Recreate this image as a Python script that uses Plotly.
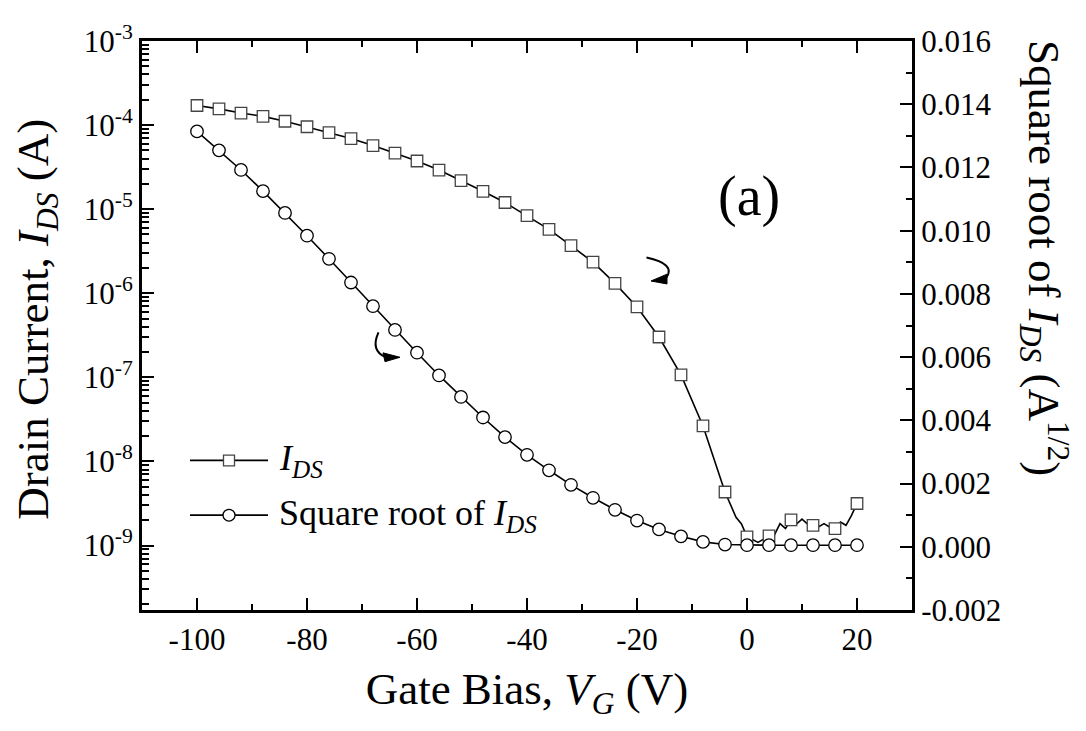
import plotly.graph_objects as go

# ---------------- data ----------------
vg = [-100, -96, -92, -88, -84, -80, -76, -72, -68, -64, -60, -56, -52, -48, -44,
      -40, -36, -32, -28, -24, -20, -16, -12, -8, -4, 0, 4, 8, 12, 16, 20]

ids = [1.71e-4, 1.56e-4, 1.39e-4, 1.27e-4, 1.11e-4, 9.55e-5, 8.13e-5, 6.92e-5,
       5.70e-5, 4.63e-5, 3.74e-5, 2.92e-5, 2.19e-5, 1.63e-5, 1.20e-5, 8.36e-6,
       5.74e-6, 3.68e-6, 2.34e-6, 1.31e-6, 6.87e-7, 3.02e-7, 1.07e-7, 2.64e-8,
       4.33e-9, 1.27e-9, 1.30e-9, 2.02e-9, 1.74e-9, 1.59e-9, 3.16e-9]

sqrt_ids = [0.01314, 0.01254, 0.01192, 0.01125, 0.01056, 0.00984, 0.00911, 0.00836,
            0.00761, 0.00686, 0.00614, 0.00542, 0.00474, 0.00409, 0.00347, 0.00291,
            0.00242, 0.00196, 0.00155, 0.00117, 0.00083, 0.00055, 0.00033, 0.000155,
            0.00007, 0.00005, 0.00005, 0.00005, 0.00005, 0.00005, 0.00005]

# extra vertices of the I_DS line between markers (wiggles seen near 0 V)
vg_extra = [-2, -1, 2, 5, 6, 7, 9, 10, 11, 13, 14, 15, 17, 18, 19]
ids_extra = [2.17e-9, 1.80e-9, 1.09e-9, 1.34e-9, 1.82e-9, 1.59e-9, 1.80e-9, 2.06e-9,
             1.80e-9, 1.66e-9, 1.82e-9, 1.66e-9, 1.90e-9, 1.74e-9, 2.28e-9]

x_ticks = [-100, -80, -60, -40, -20, 0, 20]
log_tick_exps = [-9, -8, -7, -6, -5, -4, -3]
right_ticks = [-0.002, 0.000, 0.002, 0.004, 0.006, 0.008, 0.010, 0.012, 0.014, 0.016]

# ---------------- figure ----------------
FONT = "Times New Roman, Liberation Serif, Times, serif"
OFF = 8                      # default page margin of the html body
W, H = 1086 - OFF, 731 - OFF
# plot area in screen pixels
L, R, T, B = 142, 912, 28, 610


def px(x, y):
    """screen pixel -> paper coordinates (for decorations only)"""
    return (x - L) / (R - L), (B - y) / (B - T)


line_pts = sorted(zip(vg + vg_extra, ids + ids_extra))
fig = go.Figure()

fig.add_trace(go.Scatter(
    x=[p[0] for p in line_pts], y=[p[1] for p in line_pts], mode="lines",
    line=dict(color="black", width=1.6), showlegend=False, yaxis="y"))
fig.add_trace(go.Scatter(
    x=vg, y=ids, mode="markers", name="I_DS",
    marker=dict(symbol="square", size=11.5, color="white",
                line=dict(color="#444444", width=1.3)),
    showlegend=False, yaxis="y"))
fig.add_trace(go.Scatter(
    x=vg, y=sqrt_ids, mode="lines+markers", name="Square root of I_DS",
    line=dict(color="black", width=1.6),
    marker=dict(symbol="circle", size=12.5, color="white",
                line=dict(color="black", width=1.3)),
    showlegend=False, yaxis="y2"))

minor_log = [m * 10 ** e for e in range(-10, -3) for m in range(2, 10)]
minor_log = [v for v in minor_log if 1.7e-10 < v < 1e-3]

tickfont = dict(family=FONT, size=31, color="black")
titlefont = dict(family=FONT, size=45, color="black")

fig.update_layout(
    width=W, height=H, autosize=False,
    margin=dict(l=L - OFF, r=W - (R - OFF), t=T - OFF, b=H - (B - OFF)),
    paper_bgcolor="white", plot_bgcolor="white",
    showlegend=False,
    font=dict(family=FONT, color="black"),
    xaxis=dict(
        range=[-110, 30], tickmode="array", tickvals=x_ticks,
        ticktext=[str(v) for v in x_ticks], tickfont=tickfont,
        ticks="inside", ticklen=12, tickwidth=2, tickcolor="black",
        minor=dict(ticks="inside", ticklen=6, tickwidth=2, tickcolor="black",
                   dtick=10, tick0=0, showgrid=False),
        showline=True, linewidth=3, linecolor="black", mirror="ticks",
        showgrid=False, zeroline=False,
        title=dict(text="Gate Bias, <i>V</i><sub><i>G</i></sub> (V)",
                   font=titlefont, standoff=17),
    ),
    yaxis=dict(
        type="log", range=[-9.767, -3], tickmode="array",
        tickvals=[10 ** e for e in log_tick_exps],
        ticktext=["10<sup>%d</sup>" % e for e in log_tick_exps],
        tickfont=tickfont,
        ticks="inside", ticklen=12, tickwidth=2, tickcolor="black",
        minor=dict(ticks="inside", ticklen=7, tickwidth=2, tickcolor="black",
                   tickmode="array", tickvals=minor_log, showgrid=False),
        showline=True, linewidth=3, linecolor="black", mirror=False,
        showgrid=False, zeroline=False,
    ),
    yaxis2=dict(
        overlaying="y", side="right", anchor="x",
        range=[-0.002, 0.016], tickmode="array", tickvals=right_ticks,
        ticktext=["%.3f" % v for v in right_ticks], tickfont=tickfont,
        ticks="inside", ticklen=12, tickwidth=2, tickcolor="black",
        minor=dict(ticks="inside", ticklen=6, tickwidth=2, tickcolor="black",
                   dtick=0.001, tick0=0, showgrid=False),
        showline=True, linewidth=3, linecolor="black",
        showgrid=False, zeroline=False,
    ),
)

annotations = []
# left axis title (reads bottom to top)
ax, ay = px(36, 313)
annotations.append(dict(
    x=ax, y=ay, xref="paper", yref="paper", showarrow=False, textangle=-90,
    text="Drain Current, <i>I</i><sub><i>DS</i></sub> (A)",
    font=titlefont, xanchor="center", yanchor="middle"))
# right axis title (reads top to bottom)
ax, ay = px(1045, 250)
annotations.append(dict(
    x=ax, y=ay, xref="paper", yref="paper", showarrow=False, textangle=90,
    text="Square root of <i>I</i><sub><i>DS</i></sub> (A<sup>1/2</sup>)",
    font=titlefont, xanchor="center", yanchor="middle"))
# panel label
ax, ay = px(749, 187)
annotations.append(dict(x=ax, y=ay, xref="paper", yref="paper", showarrow=False,
                        text="(a)", font=dict(family=FONT, size=56, color="black"),
                        xanchor="center", yanchor="middle"))

# manual legend
shapes = []
legend_font = dict(family=FONT, size=36, color="black")
for ly, sym, label in [(457, "square", "<i>I</i><sub><i>DS</i></sub>"),
                       (513, "circle", "Square root of <i>I</i><sub><i>DS</i></sub>")]:
    x0, y0 = px(190, ly)
    x1, _ = px(268, ly)
    shapes.append(dict(type="line", xref="paper", yref="paper", x0=x0, x1=x1, y0=y0, y1=y0,
                       line=dict(color="black", width=1.6)))
    if sym == "square":
        a0, b0 = px(223.5, ly + 5.5)
        a1, b1 = px(234.5, ly - 5.5)
        shapes.append(dict(type="rect", xref="paper", yref="paper", x0=a0, x1=a1, y0=b0, y1=b1,
                           fillcolor="white", line=dict(color="#444444", width=1.3)))
    else:
        a0, b0 = px(223, ly + 6)
        a1, b1 = px(235, ly - 6)
        shapes.append(dict(type="circle", xref="paper", yref="paper", x0=a0, x1=a1, y0=b0, y1=b1,
                           fillcolor="white", line=dict(color="black", width=1.3)))
    tx, ty = px(277, ly)
    annotations.append(dict(x=tx, y=ty, xref="paper", yref="paper", showarrow=False,
                            text=label, font=legend_font, xanchor="left", yanchor="middle"))


def path(points, cmd):
    out = []
    for c, pts in zip(cmd, points):
        out.append(c + " ".join("%.5f,%.5f" % px(*p) for p in pts))
    return " ".join(out)


# curved arrow near circles (pointing right)
shapes.append(dict(type="path", xref="paper", yref="paper",
                   path=path([[(378.5, 326)], [(370, 345), (386, 351.5)]], ["M", "Q"]),
                   line=dict(color="black", width=2)))
shapes.append(dict(type="path", xref="paper", yref="paper",
                   path=path([[(383, 347)], [(400, 351.5)], [(385, 356)]], ["M", "L", "L"]) + " Z",
                   fillcolor="black", line=dict(color="black", width=1)))
# curved arrow near squares (pointing left)
shapes.append(dict(type="path", xref="paper", yref="paper",
                   path=path([[(646.5, 249.5)], [(676, 256), (666.5, 270)]], ["M", "Q"]),
                   line=dict(color="black", width=2)))
shapes.append(dict(type="path", xref="paper", yref="paper",
                   path=path([[(667, 266.5)], [(651, 273.5)], [(667, 276.5)]], ["M", "L", "L"]) + " Z",
                   fillcolor="black", line=dict(color="black", width=1)))

fig.update_layout(annotations=annotations, shapes=shapes)
fig.write_html("out.html")
